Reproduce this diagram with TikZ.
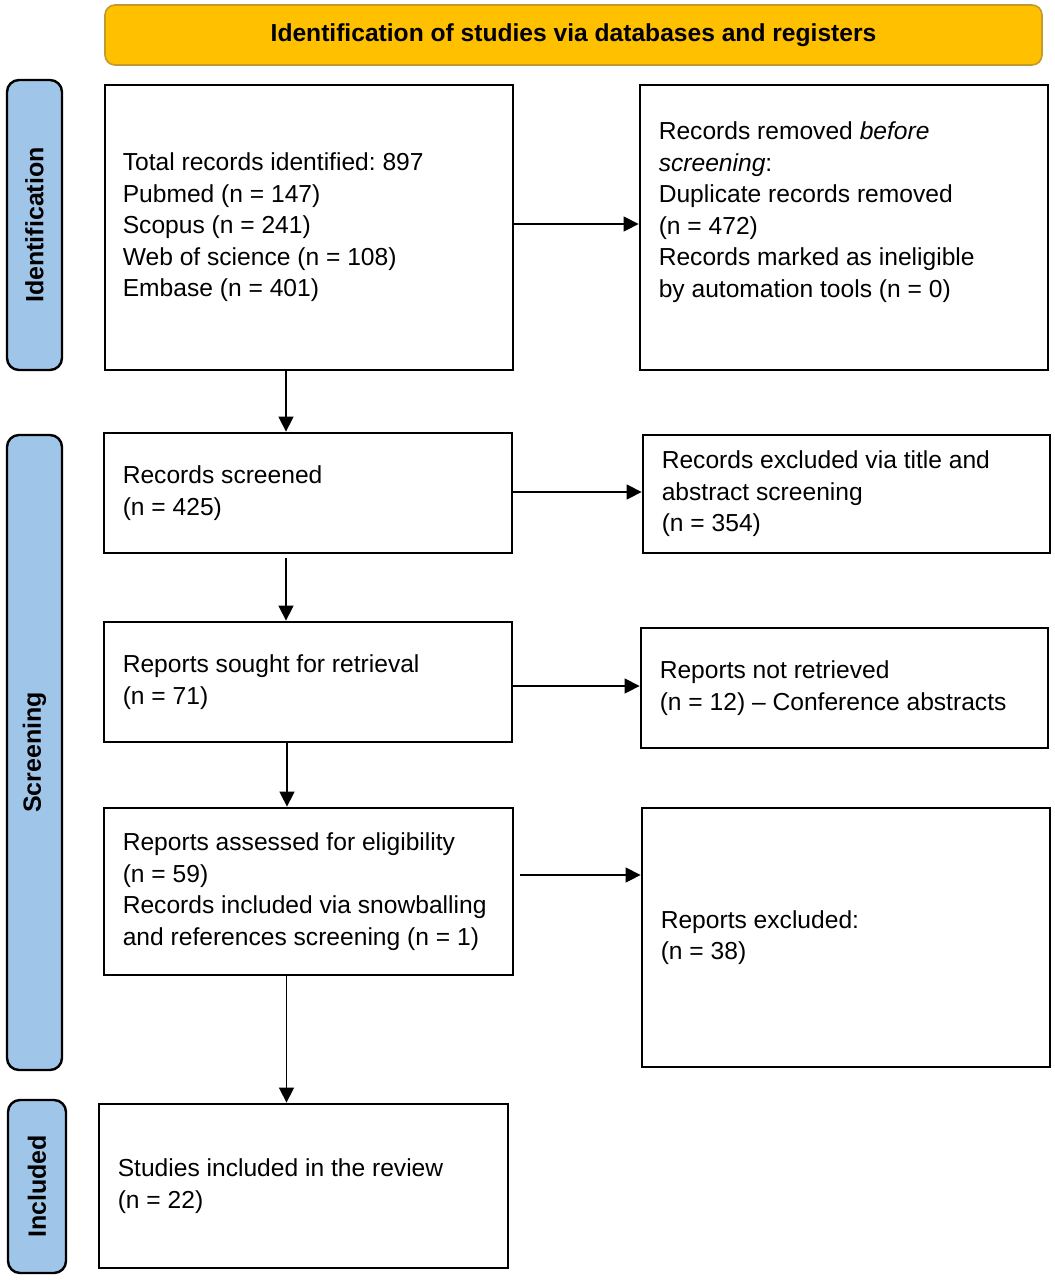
\documentclass[tikz,border=0pt]{standalone}
\usepackage{fontspec}
\setmainfont{Liberation Sans}
\usetikzlibrary{arrows.meta}
\definecolor{hdrfill}{HTML}{FFC000}
\definecolor{hdrline}{HTML}{C39B2A}
\definecolor{sidefill}{HTML}{9FC5E8}
\tikzset{
  box/.style={draw=black, line width=2.8pt, fill=white, inner sep=0pt},
  txt/.style={anchor=west, align=left, inner sep=0pt, font=\frenchspacing\fontsize{24.6}{31.5}\selectfont},
  side/.style={draw=black, line width=2.4pt, fill=sidefill, rounded corners=12pt, rotate=90, inner sep=0pt, font=\bfseries\fontsize{25}{28}\selectfont},
  hdr/.style={draw=hdrline, line width=1.6pt, fill=hdrfill, rounded corners=10pt, inner sep=0pt, font=\bfseries\fontsize{24.6}{28}\selectfont},
  arr/.style={line width=1.4pt, -{Triangle[length=15pt,width=15pt]}}
}
\begin{document}
\begin{tikzpicture}[x=1pt,y=-1pt]
\useasboundingbox (0,0) rectangle (1055,1280);
% header
\node[hdr, minimum width=937pt, minimum height=60pt] (hdr) at (573.5,35) {Identification of studies via databases and registers};
% side bars
\node[side, minimum width=290pt, minimum height=55pt] (sid) at (34.5,225) {Identification};
\node[side, minimum width=635pt, minimum height=55pt] (sscr) at (34.5,752.5) {Screening};
\node[side, minimum width=173pt, minimum height=58pt] (sinc) at (37,1186.5) {Included};
% boxes
\node[box, minimum width=408pt, minimum height=285pt] (b1) at (309,227.5) {};
\node[box, minimum width=408pt, minimum height=285pt] (b2) at (844,227.5) {};
\node[box, minimum width=408pt, minimum height=120pt] (b3) at (308,493) {};
\node[box, minimum width=407pt, minimum height=118pt] (b4) at (846.5,494) {};
\node[box, minimum width=408pt, minimum height=120pt] (b5) at (308,682) {};
\node[box, minimum width=407pt, minimum height=120pt] (b6) at (844.5,688) {};
\node[box, minimum width=409pt, minimum height=167pt] (b7) at (308.5,891.5) {};
\node[box, minimum width=408pt, minimum height=259pt] (b8) at (846,937.5) {};
\node[box, minimum width=409pt, minimum height=164pt] (b9) at (303.5,1186) {};
% texts
\node[txt] (t1) at ([xshift=19pt]b1.west) {Total records identified: 897\\Pubmed (n = 147)\\Scopus (n = 241)\\Web of science (n = 108)\\Embase (n = 401)};
\node[txt] (t2) at ([xshift=20pt,yshift=15.5pt]b2.west) {Records removed \textit{before}\\\textit{screening}:\\Duplicate records removed\\(n = 472)\\Records marked as ineligible\\by automation tools (n = 0)};
\node[txt] (t3) at ([xshift=20pt]b3.west) {Records screened\\(n = 425)};
\node[txt] (t4) at ([xshift=20pt]b4.west) {Records excluded via title and\\abstract screening\\(n = 354)};
\node[txt] (t5) at ([xshift=20pt]b5.west) {Reports sought for retrieval\\(n = 71)};
\node[txt] (t6) at ([xshift=20pt]b6.west) {Reports not retrieved\\(n = 12) -- Conference abstracts};
\node[txt] (t7) at ([xshift=20pt]b7.west) {Reports assessed for eligibility\\(n = 59)\\Records included via snowballing\\and references screening (n = 1)};
\node[txt] (t8) at ([xshift=20pt]b8.west) {Reports excluded:\\(n = 38)};
\node[txt] (t9) at ([xshift=20pt]b9.west) {Studies included in the review\\(n = 22)};
% horizontal arrows
\draw[arr] ([yshift=3.5pt]b1.east) -- ([yshift=3.5pt]b1.east -| b2.west);
\draw[arr] ([yshift=1pt]b3.east) -- ([yshift=1pt]b3.east -| b4.west);
\draw[arr] ([yshift=-4pt]b5.east) -- ([yshift=-4pt]b5.east -| b6.west);
\draw[arr] ([xshift=6pt,yshift=16.5pt]b7.east) -- ([yshift=16.5pt]b7.east -| b8.west);
% vertical arrows
\draw[arr] ([xshift=-23pt]b1.south) -- ([xshift=-23pt]b1.south |- b3.north);
\draw[arr] ([xshift=-22pt,yshift=-4pt]b3.south) -- ([xshift=-22pt]b3.south |- b5.north);
\draw[arr] ([xshift=-21pt]b5.south) -- ([xshift=-21pt]b5.south |- b7.north);
\draw[arr] ([xshift=-22pt]b7.south) -- ([xshift=-22pt]b7.south |- b9.north);
\end{tikzpicture}
\end{document}
